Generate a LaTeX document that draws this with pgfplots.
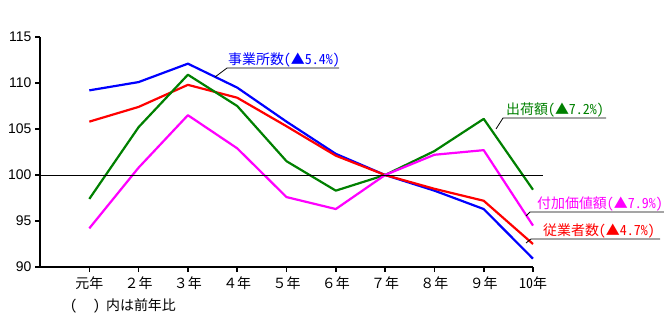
\documentclass[border=0pt]{standalone}
\usepackage{fontspec}
\setmainfont{Liberation Sans}
\newfontfamily\jp{Noto Sans CJK JP}
\newfontfamily\jph[RawFeature=+hwid]{Noto Sans CJK JP}
\usepackage{pgfplots}
\pgfplotsset{compat=1.18}
\definecolor{cblue}{RGB}{0,0,255}
\definecolor{cred}{RGB}{255,0,0}
\definecolor{cgreen}{RGB}{0,128,0}
\definecolor{cmag}{RGB}{255,0,255}
\begin{document}
\begin{tikzpicture}[x=1bp,y=1bp]
\path[use as bounding box] (0,0) rectangle (664,320);
\begin{axis}[
  at={(40bp,53bp)}, anchor=south west,
  scale only axis, width=493bp, height=230bp,
  xmin=-1, xmax=9, ymin=90, ymax=115,
  axis x line=bottom, axis y line=left,
  axis line style={-, line width=1.6bp},
  xtick={0,...,9},
  xticklabels={元年,２年,３年,４年,５年,６年,７年,８年,９年,{\jph 10年}},
  ytick={90,95,100,105,110,115},
  tick align=outside, major tick length=5bp,
  tick style={line width=1.6bp, black},
  xticklabel style={font=\jp\fontsize{14}{16}\selectfont, yshift=-1bp},
  yticklabel style={font=\fontsize{14}{16}\selectfont},
  /pgf/number format/assume math mode=true,
  clip=false,
  every axis plot/.append style={line width=2.2bp, line join=round}
]
\addplot[cblue] coordinates {(0,109.2)(1,110.1)(2,112.1)(3,109.5)(4,105.8)(5,102.3)(6,100)(7,98.3)(8,96.3)(9,90.9)};
\addplot[cred] coordinates {(0,105.8)(1,107.4)(2,109.8)(3,108.4)(4,105.3)(5,102.1)(6,100)(7,98.5)(8,97.2)(9,92.5)};
\addplot[cgreen] coordinates {(0,97.4)(1,105.2)(2,110.9)(3,107.5)(4,101.5)(5,98.3)(6,100)(7,102.6)(8,106.1)(9,98.4)};
\addplot[cmag] coordinates {(0,94.2)(1,100.8)(2,106.5)(3,102.9)(4,97.6)(5,96.3)(6,100)(7,102.2)(8,102.7)(9,94.5)};
\draw[black, line width=0.9bp] (axis cs:-1,100) -- (axis cs:9.2,100);
\end{axis}
% labels
\draw[black, line width=0.8bp] (215,243) -- (227,252) -- (339,252);
\node[anchor=base west, text=cblue, font=\jph\fontsize{14}{16}\selectfont, inner sep=0pt] at (228,256) {事業所数(▲5.4\%)};
\draw[black, line width=0.8bp] (496,191) -- (503,202) -- (606,202);
\node[anchor=base west, text=cgreen, font=\jph\fontsize{14}{16}\selectfont, inner sep=0pt] at (506,206) {出荷額(▲7.2\%)};
\draw[black, line width=0.8bp] (526,104) -- (530,108) -- (664,108);
\node[anchor=base west, text=cmag, font=\jph\fontsize{14}{16}\selectfont, inner sep=0pt] at (537,112) {付加価値額(▲7.9\%)};
\draw[black, line width=0.8bp] (526,77) -- (531,81) -- (660,81);
\node[anchor=base west, text=cred, font=\jph\fontsize{14}{16}\selectfont, inner sep=0pt] at (543,85) {従業者数(▲4.7\%)};
\node[anchor=base west, font=\jph\fontsize{14}{16}\selectfont, inner sep=0pt] at (70,10) {(\hspace{16bp})\hspace{6bp}内は前年比};
\end{tikzpicture}
\end{document}
